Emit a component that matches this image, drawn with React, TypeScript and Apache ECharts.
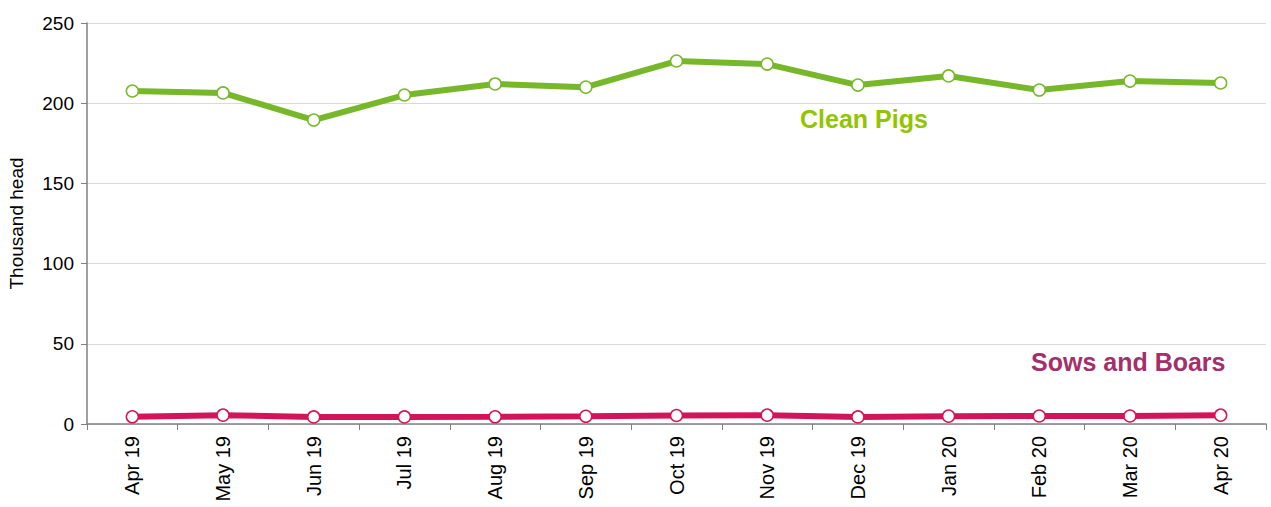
import React, { useEffect, useRef } from "react";
import * as echarts from "echarts";

const categories = ["Apr 19", "May 19", "Jun 19", "Jul 19", "Aug 19", "Sep 19", "Oct 19", "Nov 19", "Dec 19", "Jan 20", "Feb 20", "Mar 20", "Apr 20"];
const cleanPigs = [207.6, 206.4, 189.5, 205.1, 212.0, 210.0, 226.3, 224.4, 211.3, 217.0, 208.2, 213.8, 212.6];
const sowsAndBoars = [4.5, 5.5, 4.4, 4.4, 4.5, 4.8, 5.3, 5.5, 4.4, 4.9, 5.0, 5.0, 5.5];
const yTicks = { min: 0, max: 250, interval: 50 };

const FONT = "Liberation Sans, Arial, sans-serif";

export default function App() {
  const ref = useRef<HTMLDivElement>(null);
  useEffect(() => {
    if (!ref.current) return;
    const chart = echarts.init(ref.current, null, { renderer: "svg" });
    chart.setOption({
      animation: false,
      grid: { left: 87, right: 5, top: 23, bottom: 83, containLabel: false, outerBoundsMode: "none" },
      xAxis: {
        type: "category",
        data: categories,
        boundaryGap: true,
        axisLine: { lineStyle: { color: "#808080", width: 1.5 } },
        axisTick: { show: true, length: 6, lineStyle: { color: "#808080" } },
        axisLabel: { rotate: 90, color: "#000", fontSize: 20, fontFamily: FONT, margin: 12 },
      },
      yAxis: {
        type: "value",
        min: yTicks.min,
        max: yTicks.max,
        interval: yTicks.interval,
        name: "Thousand head",
        nameLocation: "middle",
        nameGap: 61,
        nameTextStyle: { color: "#000", fontSize: 19, fontFamily: FONT },
        axisLine: { show: true, lineStyle: { color: "#808080", width: 1.5 } },
        axisTick: { show: true, length: 6, lineStyle: { color: "#808080" } },
        axisLabel: { color: "#000", fontSize: 19, fontFamily: FONT, margin: 13 },
        splitLine: { lineStyle: { color: "#d9d9d9", width: 1 } },
      },
      series: [
        {
          name: "Clean Pigs",
          type: "line",
          data: cleanPigs,
          lineStyle: { color: "#76B82A", width: 6 },
          itemStyle: { color: "#fff", borderColor: "#76B82A", borderWidth: 1.5 },
          symbol: "circle",
          symbolSize: 12,
          z: 3,
        },
        {
          name: "Sows and Boars",
          type: "line",
          data: sowsAndBoars,
          lineStyle: { color: "#D4145A", width: 6 },
          itemStyle: { color: "#fff", borderColor: "#D4145A", borderWidth: 1.5 },
          symbol: "circle",
          symbolSize: 12,
          z: 3,
        },
      ],
      graphic: [
        {
          type: "text",
          left: 800,
          top: 106,
          style: { text: "Clean Pigs", fill: "#92C500", font: "bold 25px " + FONT },
        },
        {
          type: "text",
          left: 1031,
          top: 349,
          style: { text: "Sows and Boars", fill: "#A3306A", font: "bold 25px " + FONT },
        },
      ],
    });
    return () => chart.dispose();
  }, []);
  return <div ref={ref} style={{ width: 1271, height: 507, position: "absolute", left: 0, top: 0 }} />;
}
